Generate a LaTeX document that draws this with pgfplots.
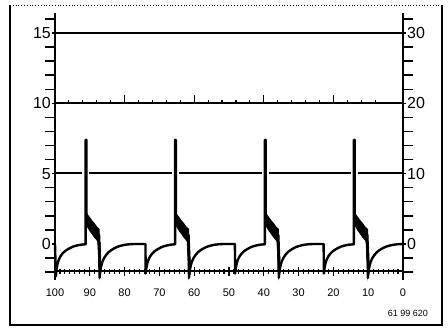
\documentclass[border=0pt]{standalone}
\usepackage{pgfplots}
\pgfplotsset{compat=1.18}
\usepackage{fontspec}
\setmainfont{Liberation Sans}
\begin{document}
\begin{tikzpicture}[x=1pt,y=1pt]
\useasboundingbox (0,0) rectangle (448,330);
% outer frame
\draw[line width=2pt] (10,325) -- (10,5) -- (442,5) -- (442,325);
\draw[line width=0.8pt, dotted] (10,325) -- (442,325);
% left y axis
\begin{axis}[at={(55pt,50pt)}, anchor=south west, scale only axis,
  width=348pt, height=267pt, xmin=0, xmax=1, ymin=-2.56, ymax=16.42,
  axis x line=none, axis y line=left, y axis line style={-, line width=1.8pt},
  tick align=outside, ytick={0,5,10,15},
  minor ytick={-2,-1,1,2,3,4,6,7,8,9,11,12,13,14,16},
  major tick length=3pt, minor tick length=10pt,
  every tick/.style={black, line width=1.4pt},
  /pgf/number format/assume math mode=true,
  yticklabel style={font=\fontsize{16}{16}\selectfont, inner sep=1pt}]
\end{axis}
% right y axis
\begin{axis}[at={(55pt,50pt)}, anchor=south west, scale only axis,
  width=348pt, height=267pt, xmin=0, xmax=1, ymin=-5.12, ymax=32.84,
  axis x line=none, axis y line=right, y axis line style={-, line width=1.8pt},
  tick align=outside, ytick={0,10,20,30},
  minor ytick={-4,-2,2,4,6,8,12,14,16,18,22,24,26,28,32},
  major tick length=3pt, minor tick length=10pt,
  every tick/.style={black, line width=1.4pt},
  /pgf/number format/assume math mode=true,
  yticklabel style={font=\fontsize{16}{16}\selectfont, inner sep=1pt}]
\end{axis}
% bottom x axis
\begin{axis}[at={(55pt,59pt)}, anchor=south west, scale only axis,
  width=348pt, height=20pt, xmin=0, xmax=100, x dir=reverse, ymin=0, ymax=1,
  axis y line=none, axis x line=bottom, x axis line style={-, line width=1.2pt},
  tick align=center, xtick={0,10,...,100}, minor x tick num=6,
  major tick length=9pt, minor tick length=5pt,
  every tick/.style={black, line width=1.1pt},
  /pgf/number format/assume math mode=true,
  xticklabel style={font=\fontsize{11}{11}\selectfont, anchor=north, yshift=-10pt}]
\end{axis}
% data
\begin{axis}[at={(55pt,50pt)}, anchor=south west, scale only axis,
  width=348pt, height=267pt, xmin=0, xmax=100, x dir=reverse,
  ymin=-2.56, ymax=16.42, hide axis, clip=false]
% grid lines
\addplot[black, line width=1.7pt] coordinates {(100,15)(0,15)};
\addplot[black, line width=1.7pt] coordinates {(100,10)(0,10)};
\addplot[black, line width=2.1pt] coordinates {(100,5.02)(0,5.02)};
% marks on the 10 line
\addplot[only marks, mark=|, mark size=1.75pt, mark options={line width=1.1pt}] coordinates {
(96,10.125)(92,10.125)(88,10.125)(84,10.125)(76,10.125)(72,10.125)(68,10.125)(64,10.125)
(56,10.125)(52,10.125)(48,10.125)(44,10.125)(36,10.125)(32,10.125)(28,10.125)(24,10.125)
(16,10.125)(12,10.125)(8,10.125)};
\addplot[only marks, mark=|, mark size=4pt, mark options={line width=1.3pt}] coordinates {
(80,10.28)(60,10.28)(40,10.28)(20,10.28)};
% white halos round the spikes
\addplot[white, line width=7pt] coordinates {(91.1,4.2)(91.1,5.8)};
\addplot[white, line width=7pt] coordinates {(65.4,4.2)(65.4,5.8)};
\addplot[white, line width=7pt] coordinates {(39.6,4.2)(39.6,5.8)};
\addplot[white, line width=7pt] coordinates {(14.0,4.2)(14.0,5.8)};
% noisy bands after the spikes
\addplot[fill=black, draw=black, line width=1pt] coordinates {
(91.05,2.25)(90.6,2.05)(90.0,1.85)(89.4,1.65)(88.7,1.45)(88.0,1.2)(87.3,1.05)
(87.3,0.05)(88.0,0.3)(88.7,0.5)(89.4,0.75)(90.0,0.95)(90.6,1.2)(91.05,1.4)} -- cycle;
\addplot[fill=black, draw=black, line width=1pt] coordinates {
(65.35,2.25)(64.9,2.05)(64.3,1.85)(63.7,1.65)(63.0,1.45)(62.3,1.2)(61.6,1.05)
(61.6,0.05)(62.3,0.3)(63.0,0.5)(63.7,0.75)(64.3,0.95)(64.9,1.2)(65.35,1.4)} -- cycle;
\addplot[fill=black, draw=black, line width=1pt] coordinates {
(39.55,2.25)(39.1,2.05)(38.5,1.85)(37.9,1.65)(37.2,1.45)(36.5,1.2)(35.8,1.05)
(35.8,0.05)(36.5,0.3)(37.2,0.5)(37.9,0.75)(38.5,0.95)(39.1,1.2)(39.55,1.4)} -- cycle;
\addplot[fill=black, draw=black, line width=1pt] coordinates {
(13.95,2.25)(13.5,2.05)(12.9,1.85)(12.3,1.65)(11.6,1.45)(10.9,1.2)(10.2,1.05)
(10.2,0.05)(10.9,0.3)(11.6,0.5)(12.3,0.75)(12.9,0.95)(13.5,1.2)(13.95,1.4)} -- cycle;
% dark columns at the drops after the bands
\addplot[fill=black, draw=black, line width=0.6pt] coordinates {
(87.8,0.4)(87.2,-2.45)(86.7,-1.9)(87.0,0.1)} -- cycle;
\addplot[fill=black, draw=black, line width=0.6pt] coordinates {
(62.1,0.4)(61.5,-2.45)(61.0,-1.9)(61.3,0.1)} -- cycle;
\addplot[fill=black, draw=black, line width=0.6pt] coordinates {
(36.3,0.4)(35.7,-2.45)(35.2,-1.9)(35.5,0.1)} -- cycle;
\addplot[fill=black, draw=black, line width=0.6pt] coordinates {
(10.7,0.4)(10.1,-2.45)(9.6,-1.9)(9.9,0.1)} -- cycle;
% main waveform
\addplot[black, line width=2.4pt, line join=round] coordinates {
(100,0)(99.75,-2.3)(99.55,-1.8)(99.3,-1.45)(98.95,-1.15)(98.45,-0.88)(97.85,-0.68)
(97.15,-0.51)(96.35,-0.38)(95.55,-0.27)(94.75,-0.18)(93.75,-0.11)(92.55,-0.05)(91.25,-0.02)
(91.2,0)(91.2,7.4)(90.95,7.4)(90.95,2.0)(90.9,1.8)(89.5,1.3)(88.0,0.9)(87.3,0.6)
(87.2,-2.4)(87.0,-1.95)(86.75,-1.6)(86.4,-1.28)(85.9,-1.0)(85.3,-0.78)(84.6,-0.58)
(83.8,-0.43)(83.0,-0.31)(82.2,-0.21)(81.2,-0.13)(80.0,-0.06)(78.7,-0.02)(77.2,0)
(74.0,0)(73.95,-2.1)(73.75,-1.71)(73.5,-1.4)(73.15,-1.12)(72.65,-0.875)(72.05,-0.68)
(71.35,-0.51)(70.55,-0.38)(69.75,-0.27)(68.95,-0.18)(67.95,-0.11)(66.75,-0.05)(65.55,-0.02)
(65.5,0)(65.5,7.4)(65.25,7.4)(65.25,2.0)(65.2,1.8)(63.8,1.3)(62.3,0.9)(61.6,0.6)
(61.5,-2.4)(61.3,-1.95)(61.05,-1.6)(60.7,-1.28)(60.2,-1.0)(59.6,-0.78)(58.9,-0.58)
(58.1,-0.43)(57.3,-0.31)(56.5,-0.21)(55.5,-0.13)(54.3,-0.06)(53.0,-0.02)(51.5,0)
(48.3,0)(48.25,-2.1)(48.05,-1.71)(47.8,-1.4)(47.45,-1.12)(46.95,-0.875)(46.35,-0.68)
(45.65,-0.51)(44.85,-0.38)(44.05,-0.27)(43.25,-0.18)(42.25,-0.11)(41.05,-0.05)(39.75,-0.02)
(39.7,0)(39.7,7.4)(39.45,7.4)(39.45,2.0)(39.4,1.8)(38.0,1.3)(36.5,0.9)(35.8,0.6)
(35.7,-2.4)(35.5,-1.95)(35.25,-1.6)(34.9,-1.28)(34.4,-1.0)(33.8,-0.78)(33.1,-0.58)
(32.3,-0.43)(31.5,-0.31)(30.7,-0.21)(29.7,-0.13)(28.5,-0.06)(27.2,-0.02)(25.7,0)
(22.8,0)(22.75,-2.1)(22.55,-1.71)(22.3,-1.4)(21.95,-1.12)(21.45,-0.875)(20.85,-0.68)
(20.15,-0.51)(19.35,-0.38)(18.55,-0.27)(17.75,-0.18)(16.75,-0.11)(15.55,-0.05)(14.15,-0.02)
(14.1,0)(14.1,7.4)(13.85,7.4)(13.85,2.0)(13.8,1.8)(12.4,1.3)(10.9,0.9)(10.2,0.6)
(10.1,-2.4)(9.9,-1.95)(9.65,-1.6)(9.3,-1.28)(8.8,-1.0)(8.2,-0.78)(7.5,-0.58)
(6.7,-0.43)(5.9,-0.31)(5.1,-0.21)(4.1,-0.13)(2.9,-0.06)(1.6,-0.02)(0,0)};
\end{axis}
\node[anchor=east, font=\fontsize{9}{9}\selectfont, inner sep=0pt] at (428,16.5) {61 99 620};
\end{tikzpicture}
\end{document}
